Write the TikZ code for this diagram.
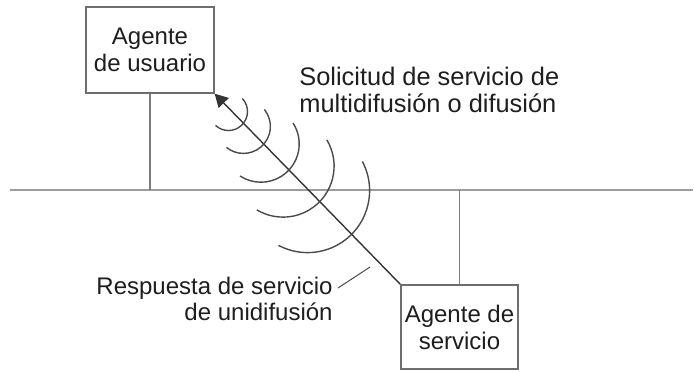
\documentclass[tikz,border=0pt]{standalone}
\usepackage{fontspec}
\setmainfont{Liberation Sans}
\usetikzlibrary{arrows.meta}
\definecolor{boxgray}{HTML}{6E6E6E}
\definecolor{busgray}{HTML}{9C9C9C}
\definecolor{arcgray}{HTML}{4A4A4A}
\definecolor{txt}{HTML}{1E1E1E}
\tikzset{
  agentbox/.style={draw=boxgray, line width=0.65pt, align=center, inner sep=0pt,
    font=\fontsize{12}{13.5}\selectfont, text=txt},
  label/.style={inner sep=0pt, font=\fontsize{12}{13}\selectfont, text=txt},
  biglabel/.style={inner sep=0pt, font=\fontsize{12.7}{13.5}\selectfont, text=txt},
  bus/.style={draw=busgray, line width=1.3pt},
  drop/.style={draw=busgray!80!black, line width=0.8pt},
  wave/.style={draw=arcgray, line width=0.7pt},
  msg/.style={draw=arcgray!70!black, line width=0.7pt},
}
\begin{document}
\begin{tikzpicture}[x=0.5pt,y=-0.5pt]
\useasboundingbox (0,0) rectangle (694,371);
% bus
\coordinate (busL) at (10,190);
\coordinate (busR) at (693,190);
\draw[bus] (busL) -- (busR);
% agents
\node[agentbox, minimum width=64pt, minimum height=43pt] (ua) at (150,50) {Agente\\de usuario};
\node[agentbox, minimum width=58.5pt, minimum height=42pt] (sa) at (459.5,327) {Agente de\\servicio};
\draw[drop] (ua.south) -- (ua.south |- busL);
\draw[drop] (sa.north) -- (sa.north |- busL);
% unicast reply arrow
\draw[msg, {Triangle[length=6.5pt,width=7pt]}-] (ua.south east) -- (sa.north west);
% multicast waves
\draw[wave] (228.5,111.5) ++(-43:19) arc[start angle=-43, end angle=133, radius=19];
\draw[wave] (243.4,126.4) ++(-39:27) arc[start angle=-39, end angle=129, radius=27];
\draw[wave] (260.9,143.9) ++(-33:38.3) arc[start angle=-33, end angle=123, radius=38.3];
\draw[wave] (283.1,166.1) ++(-31:51) arc[start angle=-31, end angle=121, radius=51];
\draw[wave] (307.6,190.6) ++(-28:62) arc[start angle=-28, end angle=118, radius=62];
% labels
\node[biglabel, anchor=west, align=left] (req) at (299,90) {Solicitud de servicio de\\multidifusión o difusión};
\node[label, anchor=east, align=right] (resp) at (333,298.5) {Respuesta de servicio\\de unidifusión};
\coordinate (leadA) at (338,288);
\coordinate (leadB) at (370,267);
\draw[draw=arcgray, line width=0.5pt] (leadA) -- (leadB);
\end{tikzpicture}
\end{document}
